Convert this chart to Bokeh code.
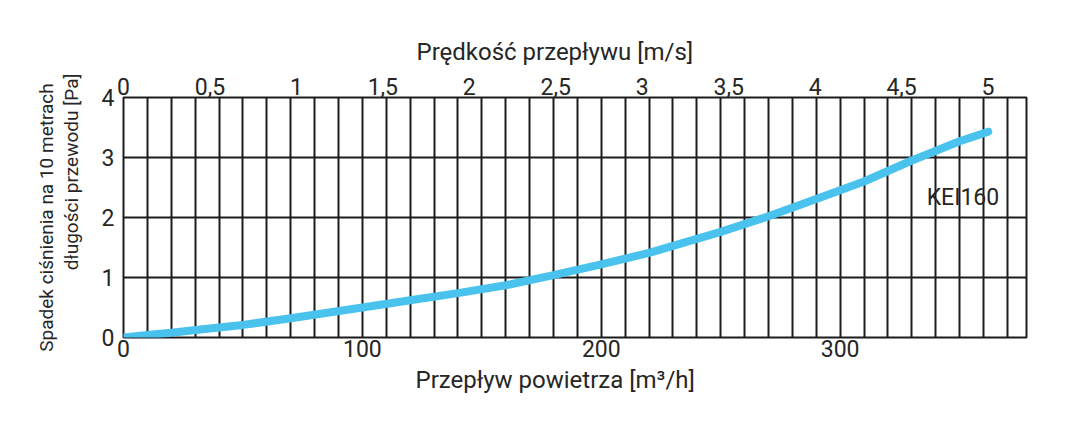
import math
from bokeh.plotting import figure
from bokeh.models import (Range1d, LinearAxis, FixedTicker, Label, Title,
                          CustomJSTickFormatter)
from bokeh.embed import file_html
from bokeh.resources import INLINE

# ---- data -------------------------------------------------------------
flow_m3h = [0, 10, 20, 35, 50, 70, 100, 120, 140, 160, 180, 200, 220,
            250, 270, 290, 310, 330, 350, 362]
pressure_pa = [0, 0.04, 0.08, 0.145, 0.21, 0.32, 0.50, 0.62, 0.74, 0.87,
               1.04, 1.22, 1.41, 1.76, 2.02, 2.31, 2.60, 2.95, 3.27, 3.43]
series_name = "KEI160"
duct_diameter_m = 0.160
bottom_ticks = [0, 100, 200, 300]
left_ticks = [0, 1, 2, 3, 4]
top_ticks = [0, 0.5, 1, 1.5, 2, 2.5, 3, 3.5, 4, 4.5, 5]
grid_ticks_x = list(range(0, 380, 10))
x_max = 378
y_max = 4

# velocity = flow / (3600 * area)
area = math.pi * (duct_diameter_m / 2) ** 2
vel_per_flow = 1.0 / (3600 * area)

FONT = "Roboto"
TXT = "#262626"
LINE = "#1c1c1c"

p = figure(width=1076, height=407,
           x_range=Range1d(0, x_max), y_range=Range1d(0, y_max),
           output_backend="svg", toolbar_location=None,
           min_border_left=123, min_border_top=97,
           min_border_right=50, min_border_bottom=70,
           background_fill_color="white", border_fill_color="white")
p.title.visible = False

bottom_axis = p.xaxis[0]
left_axis = p.yaxis[0]

p.extra_x_ranges = {"vel": Range1d(0, x_max * vel_per_flow)}
top_axis = LinearAxis(x_range_name="vel")
p.add_layout(top_axis, "above")

for ax in [bottom_axis, left_axis, top_axis]:
    ax.axis_line_color = None
    ax.major_tick_line_color = None
    ax.minor_tick_line_color = None
    ax.major_tick_out = 0
    ax.major_tick_in = 0
    ax.minor_tick_out = 0
    ax.minor_tick_in = 0
    ax.major_label_text_font = FONT
    ax.major_label_text_font_size = "23px"
    ax.major_label_text_color = TXT

bottom_axis.ticker = FixedTicker(ticks=bottom_ticks)
bottom_axis.major_label_standoff = 2
left_axis.ticker = FixedTicker(ticks=left_ticks)
left_axis.major_label_standoff = 9
# small spacer between tick labels and the two-line axis title
left_axis.axis_label = " "
left_axis.axis_label_text_font_size = "4px"
left_axis.axis_label_standoff = 8
top_axis.ticker = FixedTicker(ticks=top_ticks)
top_axis.major_label_standoff = 3
top_axis.formatter = CustomJSTickFormatter(
    code="return tick.toString().replace('.', ',')")

p.xgrid.ticker = FixedTicker(ticks=grid_ticks_x)
p.ygrid.ticker = FixedTicker(ticks=left_ticks)
for g in [p.xgrid[0], p.ygrid[0]]:
    g.grid_line_color = LINE
    g.grid_line_width = 2
    g.grid_line_alpha = 1
p.outline_line_color = LINE
p.outline_line_width = 2
p.outline_line_alpha = 1

p.line(flow_m3h, pressure_pa, line_width=8, color="#49c3ee",
       line_cap="round", line_join="round")

# ---- texts ------------------------------------------------------------
def title(text, size, align="left", offset=0, standoff=10):
    return Title(text=text, align=align, offset=offset, standoff=standoff,
                 text_font=FONT, text_font_size=size, text_color=TXT,
                 text_font_style="normal")

p.add_layout(title("Przepływ powietrza [m³/h]", "24px", "left", 292, 8), "below")
p.add_layout(title("Prędkość przepływu [m/s]", "24px", "left", 293, 17), "above")
p.add_layout(title("długości przewodu [Pa]", "19px", "right", -24, 0), "left")
p.add_layout(title("Spadek ciśnienia na 10 metrach", "19px", "center", 0, 0), "left")

p.add_layout(Label(x=351.4, y=2.34, text=series_name,
                   text_align="center", text_baseline="middle",
                   text_font=FONT, text_font_size="23px", text_color=TXT))

open("out.html", "w").write(file_html(p, INLINE))
